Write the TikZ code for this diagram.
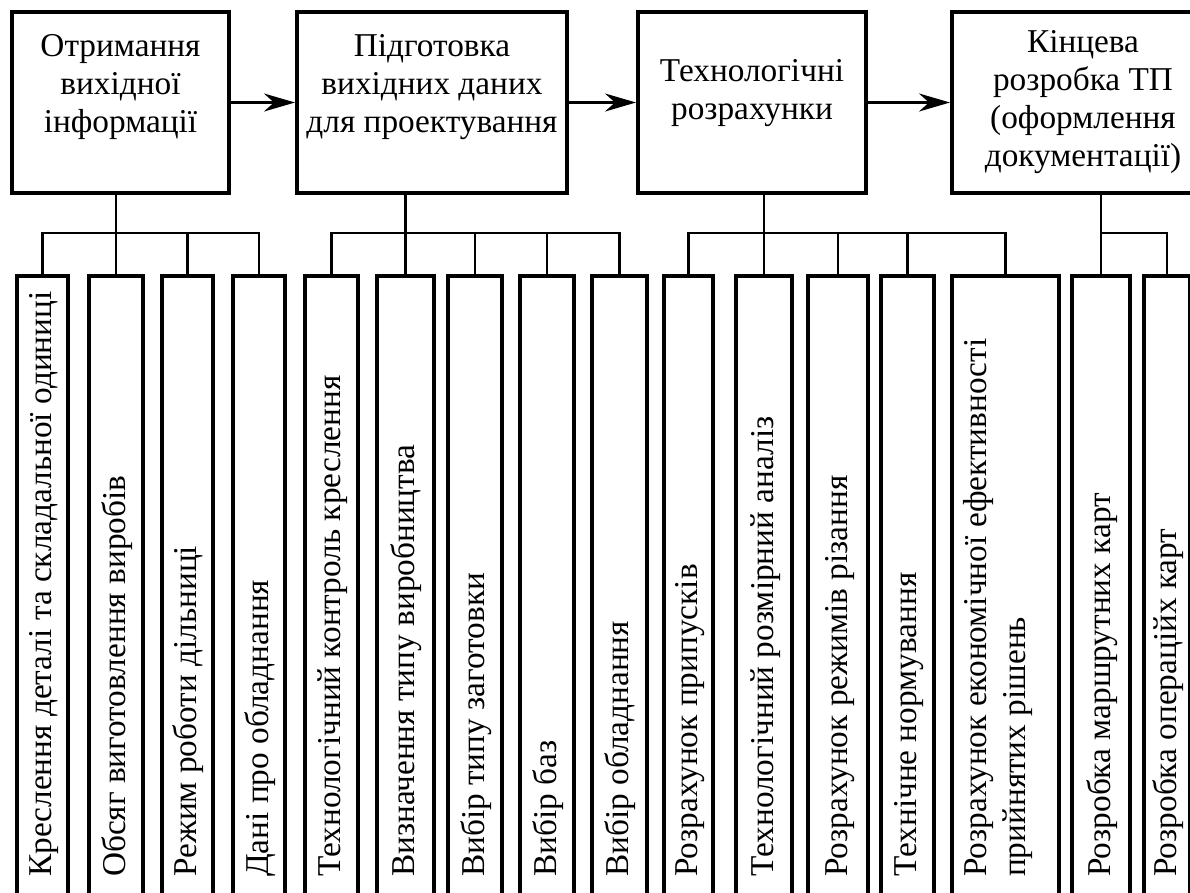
\documentclass[tikz,border=0pt]{standalone}
\usepackage{fontspec}
\setmainfont{Liberation Serif}
\usetikzlibrary{arrows.meta}

\begin{document}
\begin{tikzpicture}[x=1pt,y=-1pt,
  stage/.style={draw,line width=4pt,inner sep=0pt,minimum height=181pt},
  stagetext/.style={align=center,inner sep=0pt,font=\fontsize{33.3}{38}\selectfont},
  leaf/.style={draw,line width=4pt,inner sep=0pt,minimum height=660pt,anchor=north},
  leaftext/.style={rotate=90,anchor=west,inner sep=0pt,align=left,font=\fontsize{33.3}{39}\selectfont},
  leafline/.style={leaftext,text height=18.6pt,text depth=0pt},
  link/.style={line width=2.5pt},
  flow/.style={line width=2.5pt,-{Stealth[length=31pt,width=18pt,inset=10pt]}}]

%Picture frame (bottom and right side are cut off)
\useasboundingbox (0,0) rectangle (1190,892);
\clip (0,0) rectangle (1190,892);

% Define coordinates
\coordinate (bus) at  (0,233);   %level of the branching lines
\def\lefty{877}                  %start of the vertical texts

% STAGES
\node[stage,minimum width=217pt] (get)   at (120.5,102.5) {};
\node[stage,minimum width=270pt] (prep)  at (432,102.5)   {};
\node[stage,minimum width=228pt] (calc)  at (752,102.5)   {};
\node[stage,minimum width=262pt] (final) at (1083,102.5)  {};

\node[stagetext] (get-t)   at (120.5,87) {Отримання\\вихідної\\інформації};
\node[stagetext] (prep-t)  at (432,87)   {Підготовка\\вихідних даних\\для проектування};
\node[stagetext] (calc-t)  at (752,93)   {Технологічні\\розрахунки};
\node[stagetext] (final-t) at (1083,102) {Кінцева\\розробка ТП\\(оформлення\\документації)};

\draw[flow] (get.east)  -- (prep.west);
\draw[flow] (prep.east) -- (calc.west);
\draw[flow] (calc.east) -- (final.west);

% Source data
\node[leaf,minimum width=51pt] (a) at (42.5,274) {};
\node[leaf,minimum width=54pt] (b) at (116,274)  {};
\node[leaf,minimum width=51pt] (c) at (187.5,274) {};
\node[leaf,minimum width=52pt] (d) at (259,274)  {};

\node[leafline] (a-t) at (42.5,\lefty) {Креслення деталі та складальної одиниці};
\node[leafline] (b-t) at (116,\lefty)  {Обсяг виготовлення виробів};
\node[leafline] (c-t) at (187.5,\lefty) {Режим роботи дільниці};
\node[leafline] (d-t) at (259,\lefty)  {Дані про обладнання};

% Preparation
\node[leaf,minimum width=53pt] (e) at (331.5,274) {};
\node[leaf,minimum width=57pt] (f) at (405.5,274) {};
\node[leaf,minimum width=54pt] (g) at (475,274)   {};
\node[leaf,minimum width=54pt] (h) at (547,274)   {};
\node[leaf,minimum width=55pt] (i) at (619.5,274) {};

\node[leafline] (e-t) at (331.5,\lefty) {Технологічний контроль креслення};
\node[leafline] (f-t) at (405.5,\lefty) {Визначення типу виробництва};
\node[leafline] (g-t) at (475,\lefty)   {Вибір типу заготовки};
\node[leafline] (h-t) at (547,\lefty)   {Вибір баз};
\node[leafline] (i-t) at (619.5,\lefty) {Вибір обладнання};

% Calculations
\node[leaf,minimum width=49pt]  (j) at (688.5,274)  {};
\node[leaf,minimum width=56pt]  (k) at (764,274)    {};
\node[leaf,minimum width=60pt]  (l) at (838,274)    {};
\node[leaf,minimum width=53pt]  (m) at (907.5,274)  {};
\node[leaf,minimum width=107pt] (n) at (1005.5,274) {};

\node[leafline] (j-t) at (688.5,\lefty) {Розрахунок припусків};
\node[leafline] (k-t) at (764,\lefty)   {Технологічний розмірний аналіз};
\node[leafline] (l-t) at (838,\lefty)   {Розрахунок режимів різання};
\node[leafline] (m-t) at (907.5,\lefty) {Технічне нормування};
\node[leaftext] (n-t) at (998,\lefty)   {Розрахунок економічної ефективності\\прийнятих рішень};

% Documents
\node[leaf,minimum width=58pt] (o) at (1101,274) {};
\node[leaf,minimum width=46pt] (p) at (1167,274) {};

\node[leafline] (o-t) at (1101,\lefty) {Розробка маршрутних карт};
\node[leafline] (p-t) at (1167,\lefty) {Розробка операційх карт};

% Branching lines
\draw[link] (get.south -| b.north) -- (b.north);
\draw[link] (a.north) -- (a.north |- bus) -- (d.north |- bus) -- (d.north);
\draw[link] (c.north) -- (c.north |- bus);

\draw[link] (prep.south -| f.north) -- (f.north);
\draw[link] (e.north) -- (e.north |- bus) -- (i.north |- bus) -- (i.north);
\draw[link] (g.north) -- (g.north |- bus);
\draw[link] (h.north) -- (h.north |- bus);

\draw[link] (calc.south -| k.north) -- (k.north);
\draw[link] (j.north) -- (j.north |- bus) -- (n.north |- bus) -- (n.north);
\draw[link] (l.north) -- (l.north |- bus);
\draw[link] (m.north) -- (m.north |- bus);

\draw[link] (final.south -| o.north) -- (o.north);
\draw[link] (o.north |- bus) -- (p.north |- bus) -- (p.north);

\end{tikzpicture}
\end{document}
